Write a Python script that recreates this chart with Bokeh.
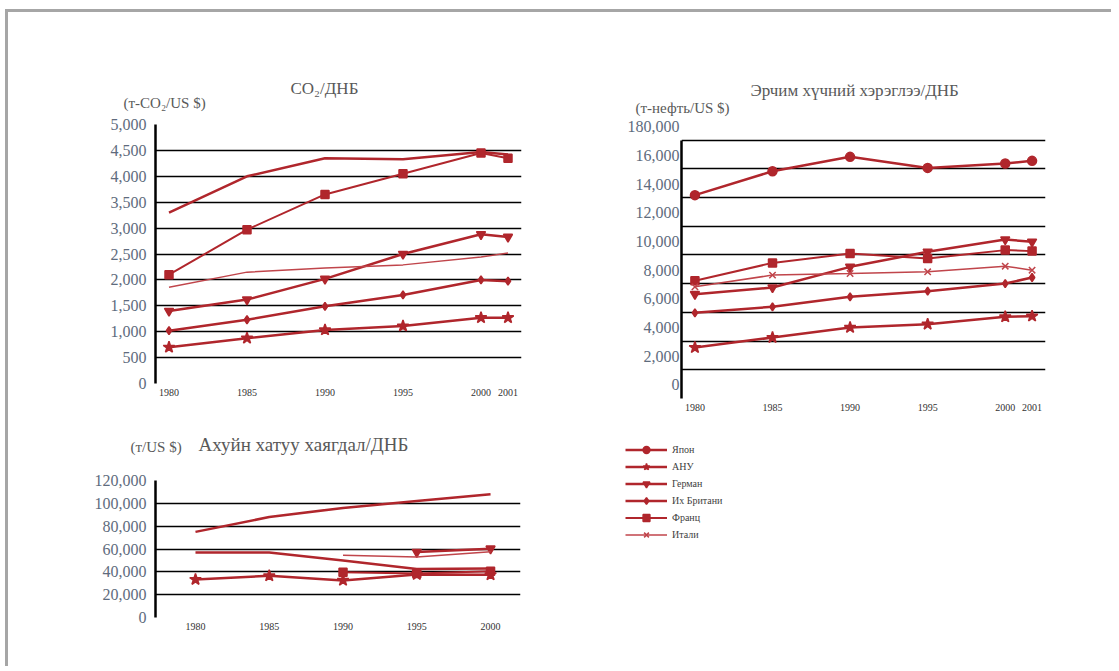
from bokeh.plotting import figure
from bokeh.models import (FactorRange, Range1d, FixedTicker, NumeralTickFormatter, LinearAxis,
                          Title, Legend, LegendItem, ColumnDataSource, BasicTickFormatter)
from bokeh.layouts import column, row
from bokeh.embed import file_html
from bokeh.resources import INLINE

NAN = float("nan")

# ---------------- data ----------------
countries = ["Япон", "АНУ", "Герман", "Их Британи", "Франц", "Итали"]

years_ab = ["1980", "1985", "1990", "1995", "2000", "2001"]
years_c = [1980, 1985, 1990, 1995, 2000]

# CO2 / GDP
co2_japan = [3300, 4000, 4350, 4330, 4470, 4420]
co2_usa = [700, 875, 1035, 1110, 1270, 1270]
co2_germany = [1400, 1620, 2020, 2500, 2880, 2830]
co2_uk = [1020, 1230, 1490, 1710, 2000, 1975]
co2_france = [2100, 2970, 3650, 4050, 4450, 4350]
co2_italy = [1860, 2150, 2230, 2290, 2440, 2520]
co2_ticks = [0, 500, 1000, 1500, 2000, 2500, 3000, 3500, 4000, 4500, 5000]

# Energy / GDP
en_japan = [14170, 15840, 16840, 16070, 16380, 16560]
en_usa = [3550, 4250, 4950, 5180, 5690, 5740]
en_germany = [7270, 7735, 9175, 10220, 11080, 10920]
en_uk = [5970, 6390, 7085, 7480, 8010, 8430]
en_france = [8200, 9450, 10100, 9760, 10340, 10270]
en_italy = [7780, 8600, 8710, 8830, 9220, 8940]
en_ticks = [0, 2000, 4000, 6000, 8000, 10000, 12000, 14000, 16000, 18000]
en_tick_labels = {18000: "180,000"}

# Solid waste / GDP
sw_japan = [75000, 88000, 96000, 102000, 108000]
sw_usa = [33300, 36500, 32500, 37700, 37400]
sw_germany = [NAN, NAN, NAN, 57300, 60300]
sw_uk = [57000, 57000, 50000, 42500, 43000]
sw_france = [NAN, NAN, 39700, 38500, 40500]
sw_italy = [NAN, NAN, 54500, 53000, 57500]
sw_label_ticks = [0, 20000, 40000, 60000, 80000, 100000, 120000]
sw_grid_ticks = [20000, 40000, 60000, 80000, 100000, 120000]

# ---------------- styles ----------------
RED = "#b0262c"
SERIF = "Liberation Serif"
TICK_COLOR = "#5e6b7d"
TITLE_COLOR = "#595959"

styles = {
    "Япон": dict(marker="circle", size=9, lw=2.5, color=RED),
    "АНУ": dict(marker="star", size=12, lw=2.5, color=RED),
    "Герман": dict(marker="inverted_triangle", size=9, lw=2.5, color=RED),
    "Их Британи": dict(marker="diamond", size=8, lw=2.5, color=RED),
    "Франц": dict(marker="square", size=8, lw=2, color=RED),
    "Итали": dict(marker="x", size=9, lw=1.5, color="#c0454b"),
}


def period_factors(years):
    return [(str(int(y) // 5 * 5), y) for y in years]


def base_fig(**kw):
    p = figure(output_backend="svg", toolbar_location=None, title=None, **kw)
    p.background_fill_color = None
    p.border_fill_color = None
    p.outline_line_color = None
    try:
        p.frame_align = False
    except Exception:
        pass
    return p


def blank_fig(**kw):
    p = base_fig(x_range=Range1d(0, 1), y_range=Range1d(0, 1),
                 x_axis_location=None, y_axis_location=None, **kw)
    p.xgrid.visible = False
    p.ygrid.visible = False
    return p


def draw(p, xs, ys, name, show_marker=True):
    st = styles[name]
    src = ColumnDataSource(dict(x=xs, y=ys))
    lr = p.line("x", "y", source=src, line_color=st["color"], line_width=st["lw"])
    mr = p.scatter("x", "y", source=src, marker=st["marker"], size=st["size"],
                   fill_color=st["color"], line_color=st["color"], line_width=1.5)
    mr.visible = show_marker
    return lr, mr


def style_yaxis(ax):
    ax.major_tick_out = 0
    ax.major_tick_in = 0
    ax.minor_tick_out = 0
    ax.minor_tick_in = 0
    ax.major_label_text_font = SERIF
    ax.major_label_text_font_size = "16px"
    ax.major_label_text_color = TICK_COLOR


def style_xaxis(ax, standoff=5):
    ax.axis_line_color = None
    ax.major_tick_out = 0
    ax.major_tick_in = 0
    ax.minor_tick_out = 0
    ax.minor_tick_in = 0
    ax.major_label_text_font = SERIF
    ax.major_label_text_font_size = "10px"
    ax.major_label_text_color = "#333333"
    ax.major_label_standoff = standoff


def make_title(text, size, offset, standoff):
    return Title(text=text, align="left", offset=offset, standoff=standoff,
                 text_font=SERIF, text_font_size=size, text_font_style="normal",
                 text_color=TITLE_COLOR)


def hide_group_labels(ax):
    ax.group_text_color = None
    ax.group_text_font_size = "0px"
    ax.separator_line_color = None


# ---------------- title strip for the two upper charts ----------------
t1 = blank_fig(width=590, height=112, min_border_left=155, min_border_right=69,
               min_border_top=110, min_border_bottom=0)
t1.add_layout(make_title("CO₂/ДНБ", "17px", 135, 25), "above")
t2 = blank_fig(width=521, height=112, min_border_left=91, min_border_right=66,
               min_border_top=110, min_border_bottom=0)
t2.add_layout(make_title("Эрчим хүчний хэрэглээ/ДНБ", "17px", 69, 22), "above")

# ---------------- chart 1: CO2 ----------------
x_ab = period_factors(years_ab)
p1 = base_fig(x_range=FactorRange(factors=x_ab, group_padding=1.889, factor_padding=0, range_padding=0),
              y_range=Range1d(0, 5000), width=590, height=505,
              min_border_left=155, min_border_right=69, min_border_top=124, min_border_bottom=122)
p1.xgrid.grid_line_color = None
co2 = dict(zip(countries, [co2_japan, co2_usa, co2_germany, co2_uk, co2_france, co2_italy]))
co2_marked = {"Япон": False, "Итали": False}
for c in countries:
    draw(p1, x_ab, co2[c], c, co2_marked.get(c, True))
p1.yaxis.ticker = FixedTicker(ticks=co2_ticks)
p1.yaxis.formatter = NumeralTickFormatter(format="0,0")
p1.yaxis.axis_line_width = 2.5
p1.yaxis.axis_line_color = "black"
p1.yaxis.major_label_standoff = 9
style_yaxis(p1.yaxis[0])
p1.ygrid.ticker = FixedTicker(ticks=co2_ticks)
p1.ygrid.grid_line_color = "black"
p1.ygrid.grid_line_width = 1.5
style_xaxis(p1.xaxis[0], 5)
hide_group_labels(p1.xaxis[0])
p1.add_layout(make_title("(т-CO₂/US $)", "15px", -32, 28), "above")
# unit label of the waste chart sits under chart 1's axis
p1.add_layout(make_title("(т/US $)", "15px", -25, 77), "below")

# ---------------- chart 2: Energy ----------------
E_END = 19094
E_SHIFT = 941
p2 = base_fig(x_range=FactorRange(factors=x_ab, group_padding=1.889, factor_padding=0, range_padding=0),
              y_range=Range1d(0, E_END), width=521, height=505,
              min_border_left=91, min_border_right=66, min_border_top=124, min_border_bottom=107)
p2.xgrid.grid_line_color = None
en = dict(zip(countries, [en_japan, en_usa, en_germany, en_uk, en_france, en_italy]))
for c in countries:
    draw(p2, x_ab, en[c], c, True)
main_ax = p2.yaxis[0]
main_ax.ticker = FixedTicker(ticks=[])
main_ax.bounds = (0, en_ticks[-1])
main_ax.axis_line_width = 2.5
main_ax.axis_line_color = "black"
style_yaxis(main_ax)
p2.extra_y_ranges = {"lab": Range1d(-E_SHIFT, E_END - E_SHIFT)}
lab_ax = LinearAxis(y_range_name="lab", ticker=FixedTicker(ticks=en_ticks),
                    formatter=NumeralTickFormatter(format="0,0"), axis_line_color=None,
                    major_label_overrides=en_tick_labels, major_label_standoff=2)
style_yaxis(lab_ax)
p2.add_layout(lab_ax, "left")
p2.ygrid.ticker = FixedTicker(ticks=en_ticks)
p2.ygrid.grid_line_color = "black"
p2.ygrid.grid_line_width = 1.5
style_xaxis(p2.xaxis[0], 5)
hide_group_labels(p2.xaxis[0])
p2.add_layout(make_title("(т-нефть/US $)", "15px", -46, 17), "above")

# ---------------- chart 3: Solid waste ----------------
p3 = base_fig(x_range=Range1d(1977.29, 2002.03), y_range=Range1d(0, 120000),
              width=600, height=266,
              min_border_left=155, min_border_right=80, min_border_top=80, min_border_bottom=49)
p3.xgrid.grid_line_color = None
sw = dict(zip(countries, [sw_japan, sw_usa, sw_germany, sw_uk, sw_france, sw_italy]))
sw_marked = {"Япон": False, "Их Британи": False, "Итали": False}
for c in countries:
    draw(p3, years_c, sw[c], c, sw_marked.get(c, True))
p3.yaxis.ticker = FixedTicker(ticks=sw_label_ticks)
p3.yaxis.formatter = NumeralTickFormatter(format="0,0")
p3.yaxis.axis_line_width = 2.5
p3.yaxis.axis_line_color = "black"
p3.yaxis.major_label_standoff = 9
style_yaxis(p3.yaxis[0])
p3.ygrid.ticker = FixedTicker(ticks=sw_grid_ticks)
p3.ygrid.grid_line_color = "black"
p3.ygrid.grid_line_width = 1.5
p3.xaxis.ticker = FixedTicker(ticks=years_c)
p3.xaxis.formatter = BasicTickFormatter(use_scientific=False)
style_xaxis(p3.xaxis[0], 5)
p3.add_layout(make_title("Ахуйн хатуу хаягдал/ДНБ", "19px", 43, 52), "above")

# ---------------- legend panel ----------------
p4 = blank_fig(width=200, height=266, min_border_left=22, min_border_right=0,
               min_border_top=38, min_border_bottom=0)
items = []
for c in countries:
    lr, mr = draw(p4, [NAN], [NAN], c, True)
    items.append(LegendItem(label=c, renderers=[lr, mr]))
legend = Legend(items=items, location="top_left", orientation="vertical",
                glyph_width=42, glyph_height=17, label_height=12, spacing=0,
                padding=0, margin=3, label_standoff=5,
                border_line_color=None, background_fill_alpha=0,
                label_text_font=SERIF, label_text_font_size="10px", label_text_color="#404040")
p4.add_layout(legend)

page_border = ("linear-gradient(#a6a6a6, #a6a6a6) 5px 9px / 3px calc(100% - 9px) no-repeat, "
               "linear-gradient(#a6a6a6, #a6a6a6) 5px 9px / calc(100% - 5px) 3px no-repeat")
row0 = row(t1, t2)
row1 = row(p1, p2, styles={"margin-top": "-112px"})
row2 = row(p3, p4, styles={"margin-top": "-105px"})
root = column(row0, row1, row2, styles={"background": page_border})

open("out.html", "w").write(file_html(root, INLINE))
